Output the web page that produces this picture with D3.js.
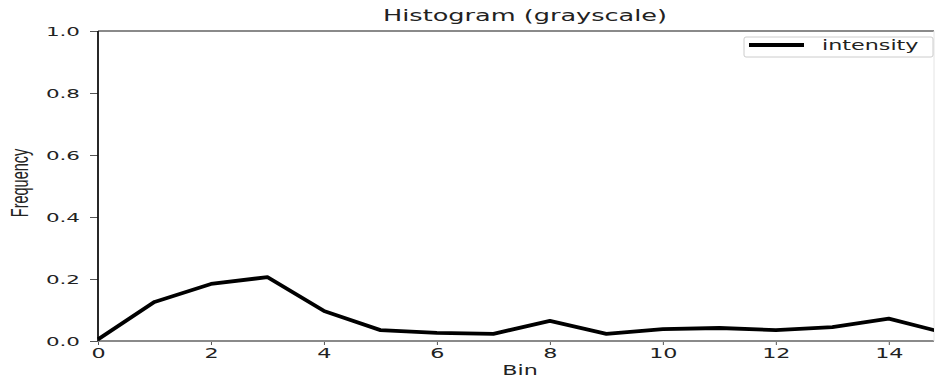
<!DOCTYPE html>
<html>
<head>
<meta charset="utf-8">
<script src="https://cdn.jsdelivr.net/npm/d3@7"></script>
<style>
  body { margin: 0; background: #fff; }
  svg text { fill: #222; }
</style>
</head>
<body>
<svg id="chart"></svg>
<script>
// values
const bins = [0, 1, 2, 3, 4, 5, 6, 7, 8, 9, 10, 11, 12, 13, 14, 15];
const intensity = [0.005, 0.126, 0.184, 0.206, 0.097, 0.035, 0.026, 0.023, 0.065, 0.023, 0.038, 0.042, 0.035, 0.045, 0.072, 0.026];
const xTicks = [0, 2, 4, 6, 8, 10, 12, 14];
const yTicks = [0.0, 0.2, 0.4, 0.6, 0.8, 1.0];
const seriesName = 'intensity';

// the reference picture is stretched sideways, so all text is too
const SX = 1.65;

let chart = {
    width: 936,
    height: 385,
    padding: {left: 98, right: 2, top: 31, bottom: 44},
    xScale: null,
    yScale: null,

    // put a text at (x, y) and stretch it around that point
    stretchText: (sel, x, y) => {
        sel.attr('x', 0).attr('y', 0)
           .attr('transform', `translate(${x}, ${y}) scale(${SX}, 1)`);
    },

    drawAxis: (svg) => {
        chart.xScale = d3.scaleLinear()
            .domain([0, 14.8])
            .range([chart.padding.left, chart.width - chart.padding.right]);
        chart.yScale = d3.scaleLinear()
            .domain([0, 1])
            .range([chart.height - chart.padding.bottom, chart.padding.top]);

        let x0 = chart.padding.left, x1 = chart.width - chart.padding.right;
        let y0 = chart.height - chart.padding.bottom, y1 = chart.padding.top;

        // x axis
        let gx = svg.append('g')
            .attr('transform', `translate(0, ${y0})`)
            .call(d3.axisBottom(chart.xScale).tickValues(xTicks).tickSize(4).tickPadding(3).tickFormat(d => d))
            .attr('font-family', 'DejaVu Sans')
            .attr('font-size', 13.5);
        gx.select('.domain').remove();
        gx.selectAll('line').attr('stroke', '#555');
        gx.selectAll('text').each(function() {
            let t = d3.select(this);
            let y = +t.attr('y');
            chart.stretchText(t, 0, y);
        });

        // y axis
        let gy = svg.append('g')
            .attr('transform', `translate(${x0}, 0)`)
            .call(d3.axisLeft(chart.yScale).tickValues(yTicks).tickSize(8).tickPadding(10).tickFormat(d3.format('.1f')))
            .attr('font-family', 'DejaVu Sans')
            .attr('font-size', 13);
        gy.select('.domain').remove();
        gy.selectAll('line').attr('stroke', '#555');
        gy.selectAll('text').each(function() {
            let t = d3.select(this);
            let x = +t.attr('x');
            chart.stretchText(t, x, 0);
        });

        // spines
        svg.append('line').attr('x1', x0).attr('x2', x1).attr('y1', y1).attr('y2', y1)
            .attr('stroke', '#8a8a8a').attr('stroke-width', 1.8);
        svg.append('line').attr('x1', x0).attr('x2', x1).attr('y1', y0).attr('y2', y0)
            .attr('stroke', '#8a8a8a').attr('stroke-width', 1.8);
        svg.append('line').attr('x1', x1).attr('x2', x1).attr('y1', y1).attr('y2', y0)
            .attr('stroke', '#e4e4e4').attr('stroke-width', 1);
        svg.append('line').attr('x1', x0).attr('x2', x0).attr('y1', y1).attr('y2', y0)
            .attr('stroke', '#111').attr('stroke-width', 1.8);

        // labels
        let title = svg.append('text')
            .attr('text-anchor', 'middle')
            .attr('font-family', 'DejaVu Sans')
            .attr('font-size', 15.5)
            .text('Histogram (grayscale)');
        chart.stretchText(title, 525, 21);

        let xLabel = svg.append('text')
            .attr('text-anchor', 'middle')
            .attr('font-family', 'DejaVu Sans')
            .attr('font-size', 13.5)
            .text('Bin');
        chart.stretchText(xLabel, 520, 375);

        svg.append('text')
            .attr('transform', `translate(28, 183) scale(${SX}, 1) rotate(-90)`)
            .attr('text-anchor', 'middle')
            .attr('font-family', 'Liberation Sans')
            .attr('font-size', 14.5)
            .text('Frequency');
    },

    drawLine: (svg) => {
        svg.append('clipPath').attr('id', 'clip')
            .append('rect')
            .attr('x', chart.padding.left - 3)
            .attr('y', chart.padding.top)
            .attr('width', chart.width - chart.padding.left - chart.padding.right + 3)
            .attr('height', chart.height - chart.padding.top - chart.padding.bottom + 3);

        let line = d3.line()
            .x((d, i) => chart.xScale(bins[i]))
            .y(d => chart.yScale(d));

        svg.append('path')
            .datum(intensity)
            .attr('clip-path', 'url(#clip)')
            .attr('d', line)
            .attr('fill', 'none')
            .attr('stroke', '#000')
            .attr('stroke-width', 3.8)
            .attr('stroke-linejoin', 'round');
    },

    drawLegend: (svg) => {
        let g = svg.append('g').attr('transform', 'translate(744, 37)');
        g.append('rect')
            .attr('width', 189).attr('height', 20).attr('rx', 2)
            .attr('fill', '#fff').attr('stroke', '#ccc');
        g.append('line')
            .attr('x1', 5).attr('x2', 60).attr('y1', 8).attr('y2', 8)
            .attr('stroke', '#000').attr('stroke-width', 3.8);
        let t = g.append('text')
            .attr('font-family', 'DejaVu Sans')
            .attr('font-size', 13.5)
            .text(seriesName);
        chart.stretchText(t, 78, 13);
    },

    drawMain: () => {
        let svg = d3.select('#chart')
            .attr('width', chart.width)
            .attr('height', chart.height);
        chart.drawAxis(svg);
        chart.drawLine(svg);
        chart.drawLegend(svg);
    }
};

chart.drawMain();
</script>
</body>
</html>
